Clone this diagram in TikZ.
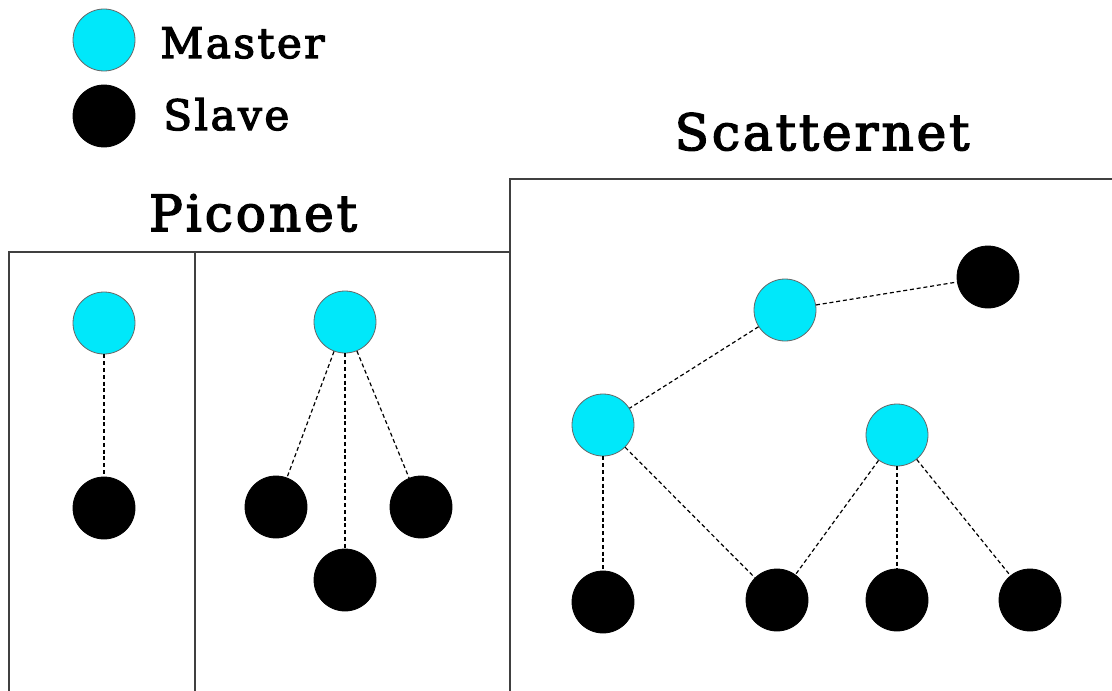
\documentclass[tikz,border=0pt]{standalone}
\usepackage{fontspec}
\newfontfamily\netfont[LetterSpace=6,FakeBold=3]{DejaVu Serif}
\usepackage{tikz}
\usetikzlibrary{positioning,shapes}
\definecolor{mastercyan}{RGB}{0,232,250}
\tikzstyle{master} = [circle, minimum size=31pt, inner sep=0pt, fill=mastercyan, draw=black!60, line width=0.4pt]
\tikzstyle{slave} = [circle, minimum size=31pt, inner sep=0pt, fill=black, draw=black]
\tikzstyle{link} = [densely dashed, line width=0.6pt, dash pattern=on 2pt off 1.4pt]
\tikzstyle{frame} = [line width=0.8pt, draw=black!75]
\tikzstyle{legendtext} = [anchor=base west, inner sep=0pt, font=\netfont\fontsize{21}{24}\selectfont]
\tikzstyle{title} = [anchor=base, inner sep=0pt, font=\netfont\fontsize{25}{30}\selectfont]

\begin{document}
\begin{tikzpicture}[x=0.5pt, y=-0.5pt, node distance=92.5pt]
			\useasboundingbox (0,0) rectangle (1112,690);
			\clip (0,0) rectangle (1112,690);
			
			% legend
			\node (legm) [master] at (104,40) {};
			\node (legs) [slave] at (104,116) {};
			\node (legmtext) [legendtext] at (160,58) {Master};
			\node (legstext) [legendtext] at (163,130) {Slave};
			
			% titles
			\node (picotitle) [title] at (253,231) {Piconet};
			\node (scattitle) [title] at (822,150) {Scatternet};
			
			% frames
			\draw [frame] (9,700) -- (9,252) -- (510,252);
			\draw [frame] (195,252) -- (195,700);
			\draw [frame] (510,700) -- (510,179) -- (1120,179);
			
			% piconet with one slave
			\node (pm1) [master] at (104,323) {};
			\node (ps1) [slave,below of=pm1] {};
			\draw [link] (pm1) -- (ps1);
			
			% piconet with three slaves
			\node (pm2) [master] at (345,322) {};
			\node (ps2) [slave] at (276,507) {};
			\node (ps3) [slave] at (421,507) {};
			\node (ps4) [slave] at (345,580) {};
			\draw [link] (pm2) -- (ps2);
			\draw [link] (pm2) -- (ps3);
			\draw [link] (pm2) -- (ps4);
			
			% scatternet
			\node (sm1) [master] at (785,310) {};
			\node (sm2) [master] at (603,425) {};
			\node (sm3) [master] at (897,435) {};
			\node (ss1) [slave] at (988,277) {};
			\node (ss2) [slave] at (603,602) {};
			\node (ss3) [slave] at (777,600) {};
			\node (ss4) [slave] at (897,600) {};
			\node (ss5) [slave] at (1030,600) {};
			
			\draw [link] (sm1) -- (ss1);
			\draw [link] (sm1) -- (sm2);
			\draw [link] (sm2) -- (ss2);
			\draw [link] (sm2) -- (ss3);
			\draw [link] (sm3) -- (ss3);
			\draw [link] (sm3) -- (ss4);
			\draw [link] (sm3) -- (ss5);
\end{tikzpicture}
\end{document}
